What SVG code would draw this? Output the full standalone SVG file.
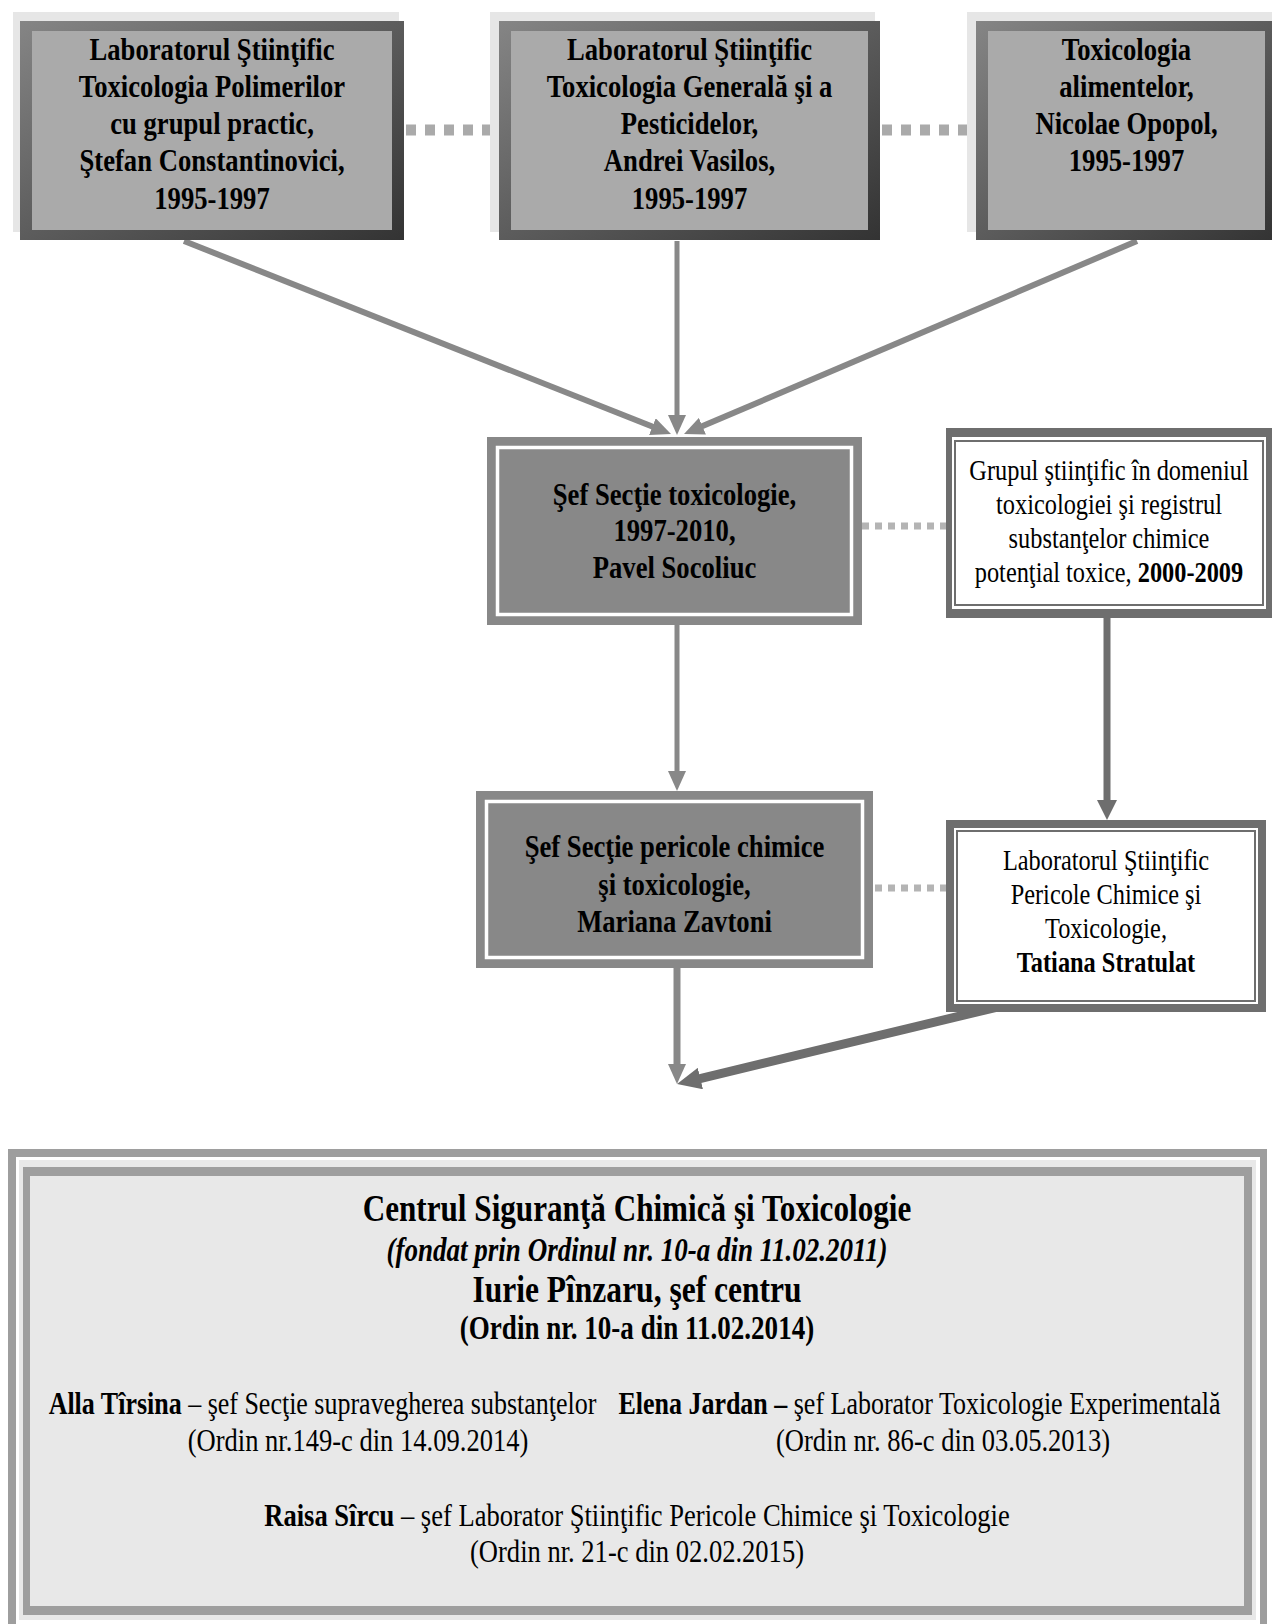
<svg xmlns="http://www.w3.org/2000/svg" width="1272" height="1624" viewBox="0 0 1272 1624">
<style>
.t{font-family:"Liberation Serif","Times New Roman",serif;fill:#000;text-anchor:middle}
.b{font-weight:bold}
.i{font-style:italic}
.bx{font-size:31px;font-weight:bold}
.rx{font-size:29px}
.h1{font-size:38px;font-weight:bold}
.h2{font-size:33px;font-weight:bold}
.r32{font-size:32px}
.r31{font-size:31.5px}
.shadow{fill:#e6e6e6}
.fillA{fill:#aaaaaa}
.ln{stroke:#888;fill:none}
.lnd{stroke:#6e6e6e;fill:none}
.dash{stroke:#aaaaaa;fill:none}
.dashs{stroke:#b4b4b4;fill:none}
</style>
<defs>
<linearGradient id="gb" x1="0" y1="0" x2="1" y2="1">
<stop offset="0" stop-color="#858585"/>
<stop offset="1" stop-color="#333333"/>
</linearGradient>
<marker id="ah" markerWidth="20" markerHeight="18" refX="10" refY="9" orient="auto" markerUnits="userSpaceOnUse">
<path d="M0,0 L20,9 L0,18 z" fill="#888"/>
</marker>
<marker id="ahd" markerWidth="20" markerHeight="20" refX="10" refY="10" orient="auto" markerUnits="userSpaceOnUse">
<path d="M0,0 L20,10 L0,20 z" fill="#6e6e6e"/>
</marker>
<marker id="ahD" markerWidth="24" markerHeight="22" refX="12" refY="11" orient="auto" markerUnits="userSpaceOnUse">
<path d="M0,0 L24,11 L0,22 z" fill="#6e6e6e"/>
</marker>
</defs>
<rect width="1272" height="1624" fill="#fff"/>

<g id="connectors">
<line class="dash" x1="406" y1="130" x2="499" y2="130" stroke-width="11" stroke-dasharray="10 9"/>
<line class="dash" x1="882" y1="130" x2="976" y2="130" stroke-width="11" stroke-dasharray="10 9"/>
<line class="dashs" x1="862" y1="526" x2="946" y2="526" stroke-width="7" stroke-dasharray="7 6"/>
<line class="dashs" x1="875" y1="888" x2="946" y2="888" stroke-width="7" stroke-dasharray="7 6"/>
<line class="ln" x1="184" y1="241" x2="661.7" y2="430.3" stroke-width="6" marker-end="url(#ah)"/>
<line class="ln" x1="677" y1="241" x2="677" y2="425" stroke-width="5" marker-end="url(#ah)"/>
<line class="ln" x1="1137" y1="241" x2="693.2" y2="430.1" stroke-width="6" marker-end="url(#ah)"/>
<line class="ln" x1="677" y1="625" x2="677" y2="781" stroke-width="5" marker-end="url(#ah)"/>
<line class="lnd" x1="1107" y1="618" x2="1107" y2="810" stroke-width="7" marker-end="url(#ahd)"/>
<line class="ln" x1="677" y1="968" x2="677" y2="1074" stroke-width="7" marker-end="url(#ah)"/>
<line class="lnd" x1="1010" y1="1004" x2="688.7" y2="1081.3" stroke-width="9" marker-end="url(#ahD)"/>
</g>

<g id="n1">
<rect class="shadow" x="13" y="12" width="386" height="220"/>
<rect x="20" y="21" width="384" height="219" fill="url(#gb)"/>
<rect class="fillA" x="32" y="31" width="360" height="199"/>
<text class="t bx" transform="translate(212,0) scale(0.86,1)"><tspan x="0" y="60">Laboratorul Ştiinţific</tspan><tspan x="0" y="97">Toxicologia Polimerilor</tspan><tspan x="0" y="134">cu grupul practic,</tspan><tspan x="0" y="171.5">Ştefan Constantinovici,</tspan><tspan x="0" y="209">1995-1997</tspan></text>
</g>

<g id="n2">
<rect class="shadow" x="490" y="12" width="385" height="220"/>
<rect x="499" y="21" width="381" height="219" fill="url(#gb)"/>
<rect class="fillA" x="511" y="31" width="357" height="199"/>
<text class="t bx" transform="translate(689.5,0) scale(0.86,1)"><tspan x="0" y="60">Laboratorul Ştiinţific</tspan><tspan x="0" y="97">Toxicologia Generală şi a</tspan><tspan x="0" y="134">Pesticidelor,</tspan><tspan x="0" y="171.5">Andrei Vasilos,</tspan><tspan x="0" y="209">1995-1997</tspan></text>
</g>

<g id="n3">
<rect class="shadow" x="967" y="12" width="305" height="220"/>
<rect x="976" y="21" width="300" height="219" fill="url(#gb)"/>
<rect class="fillA" x="988" y="31" width="277" height="199"/>
<text class="t bx" transform="translate(1126.5,0) scale(0.86,1)"><tspan x="0" y="60">Toxicologia</tspan><tspan x="0" y="97">alimentelor,</tspan><tspan x="0" y="134">Nicolae Opopol,</tspan><tspan x="0" y="171.5">1995-1997</tspan></text>
</g>

<g id="n4">
<rect x="487" y="437" width="375" height="188" fill="#888"/>
<rect x="497.5" y="447.5" width="354" height="167" fill="#888" stroke="#fff" stroke-width="3.5"/>
<text class="t bx" transform="translate(674.5,0) scale(0.86,1)"><tspan x="0" y="505">Şef Secţie toxicologie,</tspan><tspan x="0" y="541">1997-2010,</tspan><tspan x="0" y="578">Pavel Socoliuc</tspan></text>
</g>

<g id="n5">
<rect x="946" y="428" width="326" height="190" fill="#6e6e6e"/>
<rect x="952" y="437" width="314" height="172" fill="#fff"/>
<rect x="955" y="441" width="308" height="164" fill="#fff" stroke="#6e6e6e" stroke-width="2"/>
<text class="t rx" transform="translate(1109,0) scale(0.84,1)"><tspan x="0" y="480">Grupul ştiinţific în domeniul</tspan><tspan x="0" y="514">toxicologiei şi registrul</tspan><tspan x="0" y="548">substanţelor chimice</tspan><tspan x="0" y="582">potenţial toxice, <tspan class="b">2000-2009</tspan></tspan></text>
</g>

<g id="n6">
<rect x="476" y="791" width="397" height="177" fill="#888"/>
<rect x="486.5" y="801.5" width="376" height="156" fill="#888" stroke="#fff" stroke-width="3.5"/>
<text class="t bx" transform="translate(674.5,0) scale(0.86,1)"><tspan x="0" y="857">Şef Secţie pericole chimice</tspan><tspan x="0" y="895">şi toxicologie,</tspan><tspan x="0" y="932">Mariana Zavtoni</tspan></text>
</g>

<g id="n7">
<rect x="946" y="820" width="320" height="192" fill="#6e6e6e"/>
<rect x="954" y="828" width="304" height="176" fill="#fff"/>
<rect x="957" y="831" width="298" height="170" fill="#fff" stroke="#6e6e6e" stroke-width="2"/>
<text class="t rx" transform="translate(1106,0) scale(0.84,1)"><tspan x="0" y="870">Laboratorul Ştiinţific</tspan><tspan x="0" y="904">Pericole Chimice şi</tspan><tspan x="0" y="938">Toxicologie,</tspan><tspan x="0" y="972" class="b">Tatiana Stratulat</tspan></text>
</g>

<g id="n8">
<rect x="8" y="1149" width="1259" height="500" fill="#9e9e9e"/>
<rect x="16" y="1157" width="1244" height="500" fill="#fff"/>
<rect x="19" y="1160" width="1237" height="460" fill="#e8e8e8"/>
<rect x="23" y="1167" width="1229" height="448" fill="#9e9e9e"/>
<rect x="30" y="1176" width="1214" height="430" fill="#e8e8e8"/>
<text class="t h1" transform="translate(637,0) scale(0.82,1)" x="0" y="1221">Centrul Siguranţă Chimică şi Toxicologie</text>
<text class="t h2 i" transform="translate(637,0) scale(0.82,1)" x="0" y="1261">(fondat prin Ordinul nr. 10-a din 11.02.2011)</text>
<text class="t h1" transform="translate(637,0) scale(0.83,1)" x="0" y="1302">Iurie Pînzaru, şef centru</text>
<text class="t h2" transform="translate(637,0) scale(0.82,1)" x="0" y="1339">(Ordin nr. 10-a din 11.02.2014)</text>
<text class="t r31" transform="translate(322.5,0) scale(0.825,1)" x="0" y="1414"><tspan class="b">Alla Tîrsina</tspan> – şef Secţie supravegherea substanţelor</text>
<text class="t r31" transform="translate(919.5,0) scale(0.825,1)" x="0" y="1414"><tspan class="b">Elena Jardan –</tspan> şef Laborator Toxicologie Experimentală</text>
<text class="t r32" transform="translate(358,0) scale(0.83,1)" x="0" y="1451">(Ordin nr.149-c din 14.09.2014)</text>
<text class="t r32" transform="translate(943,0) scale(0.83,1)" x="0" y="1451">(Ordin nr. 86-c din 03.05.2013)</text>
<text class="t r32" transform="translate(637,0) scale(0.83,1)" x="0" y="1526"><tspan class="b">Raisa Sîrcu</tspan> – şef Laborator Ştiinţific Pericole Chimice şi Toxicologie</text>
<text class="t r32" transform="translate(637,0) scale(0.83,1)" x="0" y="1562">(Ordin nr. 21-c din 02.02.2015)</text>
</g>
</svg>
